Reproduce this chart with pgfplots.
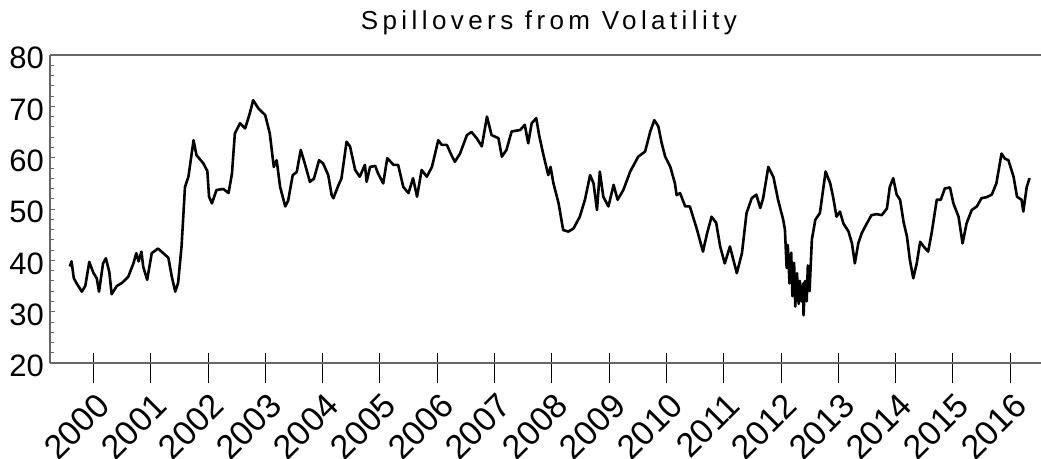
\documentclass[border=0pt]{standalone}
\usepackage{fontspec}
\setmainfont{Liberation Sans}
\usepackage{pgfplots}
\pgfplotsset{compat=1.18}
\usepackage{pgfplotstable}

\pgfplotstableread{
year val
1999.59 38.8
1999.62 39.8
1999.66 36.5
1999.71 35.5
1999.80 33.9
1999.86 35.0
1999.93 39.7
2000.00 37.6
2000.06 36.5
2000.10 33.9
2000.17 39.4
2000.22 40.4
2000.28 37.7
2000.32 33.4
2000.41 35.0
2000.50 35.6
2000.61 36.8
2000.70 39.4
2000.75 41.4
2000.79 39.8
2000.84 41.7
2000.87 38.8
2000.94 36.2
2001.02 41.4
2001.13 42.3
2001.25 41.1
2001.31 40.5
2001.37 36.8
2001.43 33.9
2001.48 35.6
2001.54 42.7
2001.60 54.3
2001.66 56.3
2001.75 63.4
2001.80 60.5
2001.92 58.9
2001.99 57.4
2002.02 52.4
2002.07 51.1
2002.15 53.7
2002.27 53.9
2002.36 53.1
2002.42 56.9
2002.47 64.7
2002.56 66.7
2002.65 65.7
2002.73 68.6
2002.79 71.2
2002.88 69.6
2003.00 68.3
2003.08 64.7
2003.15 58.2
2003.20 59.5
2003.26 54.3
2003.35 50.5
2003.40 51.6
2003.48 56.6
2003.55 57.2
2003.62 61.5
2003.69 58.9
2003.78 55.3
2003.85 55.9
2003.94 59.5
2004.01 58.9
2004.10 56.6
2004.16 52.7
2004.19 52.1
2004.28 54.7
2004.33 55.9
2004.42 63.1
2004.48 62.2
2004.57 57.6
2004.65 56.3
2004.74 58.6
2004.77 55.3
2004.83 58.2
2004.92 58.4
2004.97 56.9
2005.06 55.0
2005.13 59.9
2005.24 58.6
2005.32 58.6
2005.41 54.3
2005.50 53.1
2005.58 56.0
2005.65 52.4
2005.73 57.6
2005.82 56.3
2005.91 58.2
2006.02 63.4
2006.08 62.5
2006.17 62.5
2006.25 60.5
2006.31 59.2
2006.40 60.8
2006.52 64.4
2006.60 65.0
2006.69 63.8
2006.78 62.2
2006.87 68.0
2006.95 64.4
2007.07 63.8
2007.13 60.2
2007.21 61.5
2007.30 65.1
2007.45 65.4
2007.53 66.4
2007.59 62.8
2007.65 66.7
2007.73 67.7
2007.78 64.4
2007.85 60.8
2007.94 56.6
2007.98 58.2
2008.03 55.0
2008.12 51.1
2008.20 45.9
2008.29 45.6
2008.38 46.2
2008.49 48.5
2008.58 51.8
2008.67 56.6
2008.73 55.0
2008.79 49.8
2008.84 57.3
2008.90 52.4
2008.99 50.5
2009.08 54.7
2009.15 51.8
2009.25 53.7
2009.37 57.3
2009.51 60.2
2009.63 61.2
2009.72 65.1
2009.79 67.3
2009.86 66.1
2009.92 62.8
2009.98 60.2
2010.07 58.2
2010.15 55.0
2010.18 52.7
2010.24 53.1
2010.33 50.5
2010.41 50.5
2010.53 46.2
2010.64 41.7
2010.71 45.2
2010.79 48.5
2010.87 47.3
2010.94 42.7
2011.02 39.4
2011.11 42.7
2011.23 37.5
2011.32 41.4
2011.40 49.2
2011.49 52.1
2011.57 52.8
2011.64 50.2
2011.69 52.1
2011.78 58.2
2011.87 56.2
2011.95 51.8
2012.04 47.9
2012.07 46.0
2012.10 38.5
2012.12 43.0
2012.15 35.5
2012.18 41.5
2012.20 33.0
2012.23 39.5
2012.25 31.0
2012.28 37.5
2012.31 31.5
2012.33 36.0
2012.36 32.0
2012.39 35.5
2012.395 29.3
2012.42 36.0
2012.45 32.0
2012.47 39.0
2012.50 34.0
2012.54 44.0
2012.60 47.9
2012.68 49.2
2012.78 57.3
2012.86 55.0
2012.91 52.4
2012.97 48.5
2013.03 49.5
2013.09 47.2
2013.18 45.6
2013.24 43.3
2013.29 39.4
2013.35 43.3
2013.41 45.3
2013.50 47.2
2013.58 48.8
2013.67 49.0
2013.76 48.8
2013.85 50.1
2013.90 54.3
2013.96 56.0
2014.02 52.8
2014.08 51.8
2014.14 47.5
2014.20 44.6
2014.25 40.1
2014.31 36.5
2014.37 39.4
2014.43 43.6
2014.49 42.7
2014.57 41.7
2014.63 45.3
2014.72 51.8
2014.79 51.8
2014.86 54.0
2014.95 54.2
2015.01 51.1
2015.10 48.5
2015.17 43.3
2015.24 47.2
2015.33 49.8
2015.42 50.5
2015.50 52.1
2015.59 52.3
2015.68 52.8
2015.76 55.0
2015.85 60.8
2015.91 59.8
2015.97 59.5
2016.06 56.3
2016.12 52.4
2016.20 51.8
2016.23 49.5
2016.29 54.3
2016.34 56.0
}\spill

\begin{document}
\begin{tikzpicture}
\path[use as bounding box] (-50bp,-96bp) rectangle (991bp,363bp);
% main axis: data, y ticks, left/top/bottom lines
\begin{axis}[
  at={(0,0)}, anchor=south west,
  scale only axis, width=991bp, height=308bp,
  xmin=1999.2443, xmax=2016.539, ymin=20, ymax=80,
  axis x line*=box, axis y line*=left,
  axis line style={black!60, line width=1.1bp},
  xtick=\empty,
  ytick={20,30,...,80}, minor y tick num=4,
  tick align=inside, major tick length=5bp, minor tick length=4bp,
  ytick style={black!60, line width=0.8bp},
  minor tick style={black!60, line width=0.8bp},
  /pgf/number format/assume math mode=true,
  yticklabel style={font=\fontsize{31bp}{31bp}\selectfont, anchor=east, inner sep=0pt, xshift=-6bp, yshift=-3bp},
]
\addplot[black, line width=2.6bp, line join=round] table[x=year, y=val] {\spill};
\end{axis}
% second axis: year ticks and labels
\begin{axis}[
  at={(0,0)}, anchor=south west,
  scale only axis, width=991bp, height=308bp,
  xmin=1999.2443, xmax=2016.539, ymin=20, ymax=80,
  axis y line=none, axis x line*=bottom,
  axis line style={black!60, line width=1.1bp},
  ytick=\empty,
  xtick={2000,2001,...,2016},
  xticklabels={2000,2001,2002,2003,2004,2005,2006,2007,2008,2009,2010,2011,2012,2013,2014,2015,2016},
  tick align=inside, major tick length=30bp,
  xtick style={black, line width=0.8bp, yshift=-20bp},
  xticklabel style={font=\fontsize{34bp}{34bp}\selectfont, anchor=east, inner sep=0pt, xshift=10.3bp, yshift=-36.5bp, rotate=45},
]
\end{axis}
\node[anchor=base, font=\fontsize{26bp}{26bp}\selectfont\addfontfeatures{LetterSpace=17}] at (498.9bp,333.5bp) {Spillovers from Volatility};
\end{tikzpicture}
\end{document}
